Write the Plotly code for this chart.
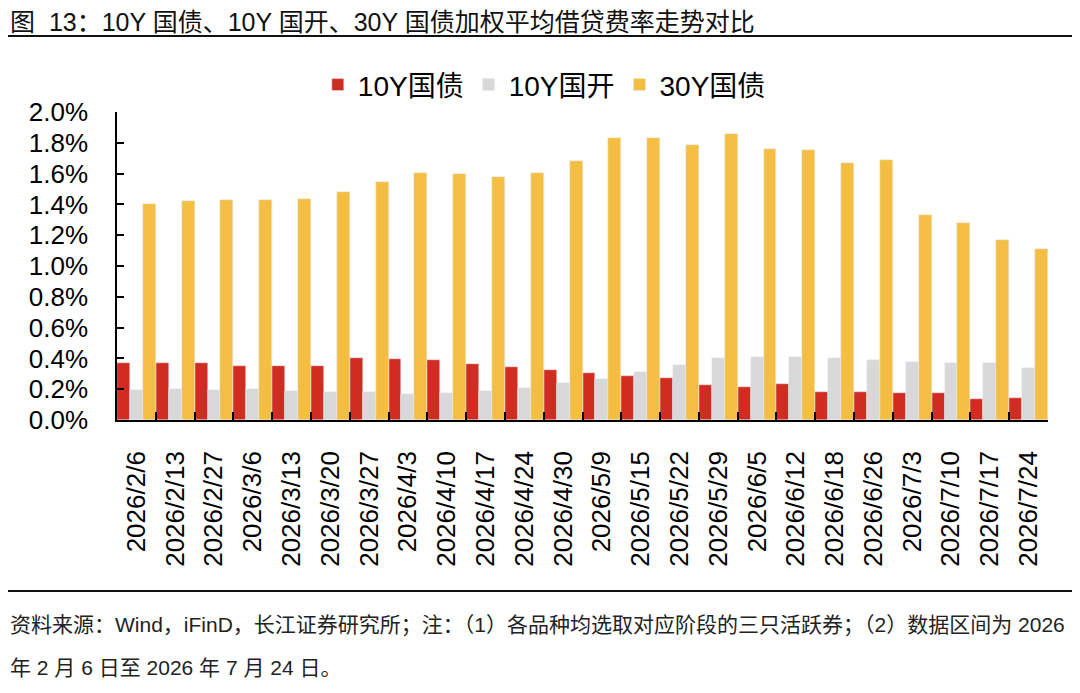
import plotly.graph_objects as go

# 每周日期
dates = ["2026/2/6", "2026/2/13", "2026/2/27", "2026/3/6", "2026/3/13", "2026/3/20",
         "2026/3/27", "2026/4/3", "2026/4/10", "2026/4/17", "2026/4/24", "2026/4/30",
         "2026/5/9", "2026/5/15", "2026/5/22", "2026/5/29", "2026/6/5", "2026/6/12",
         "2026/6/18", "2026/6/26", "2026/7/3", "2026/7/10", "2026/7/17", "2026/7/24"]

# 加权平均借贷费率 (%)
gov_10y = [0.368, 0.370, 0.368, 0.352, 0.350, 0.350, 0.400, 0.396, 0.387, 0.363, 0.342, 0.324,
           0.307, 0.288, 0.275, 0.227, 0.214, 0.231, 0.184, 0.179, 0.177, 0.177, 0.138, 0.145]
cdb_10y = [0.197, 0.201, 0.197, 0.199, 0.186, 0.179, 0.179, 0.169, 0.173, 0.188, 0.208, 0.242,
           0.266, 0.309, 0.357, 0.400, 0.411, 0.406, 0.400, 0.389, 0.378, 0.372, 0.368, 0.337]
gov_30y = [1.405, 1.423, 1.427, 1.429, 1.436, 1.479, 1.544, 1.606, 1.598, 1.576, 1.602, 1.680,
           1.834, 1.829, 1.784, 1.857, 1.762, 1.751, 1.667, 1.686, 1.334, 1.282, 1.170, 1.111]

y_ticks = [0.0, 0.2, 0.4, 0.6, 0.8, 1.0, 1.2, 1.4, 1.6, 1.8, 2.0]
y_labels = ["0.0%", "0.2%", "0.4%", "0.6%", "0.8%", "1.0%", "1.2%", "1.4%", "1.6%", "1.8%", "2.0%"]

FONT = "Liberation Sans, Arial, Noto Sans CJK SC, sans-serif"

fig = go.Figure()
fig.add_trace(go.Bar(x=dates, y=gov_10y, name="10Y国债", marker_color="#D02D22"))
fig.add_trace(go.Bar(x=dates, y=cdb_10y, name="10Y国开", marker_color="#D8D8D8"))
fig.add_trace(go.Bar(x=dates, y=gov_30y, name="30Y国债", marker_color="#F4BE42"))

fig.update_layout(
    width=1080, height=693,
    margin=dict(l=109, r=40, t=104, b=281),
    paper_bgcolor="white", plot_bgcolor="white",
    font=dict(family=FONT, size=26, color="black"),
    barmode="group", bargap=0, bargroupgap=0,
    showlegend=True,
    legend=dict(orientation="h", x=0.459, xanchor="center", y=1.088, yanchor="middle",
                font=dict(size=28)),
)

fig.update_yaxes(range=[0, 2.0], tickvals=y_ticks, ticktext=y_labels,
                 showgrid=False, zeroline=False, showline=True, linecolor="black", linewidth=1.5,
                 ticks="inside", ticklen=7, tickcolor="black", tickwidth=1.5,
                 ticklabelstandoff=22)
fig.update_xaxes(type="category", tickangle=-90, showgrid=False, showline=True,
                 linecolor="black", linewidth=1.5, ticks="inside", ticklen=8,
                 tickcolor="black", tickwidth=1.5, tickson="boundaries",
                 ticklabelstandoff=19)

# 标题及分隔线
fig.add_annotation(text="图\u00a0\u00a013：10Y 国债、10Y 国开、30Y 国债加权平均借贷费率走势对比",
                   xref="paper", yref="paper", x=-0.117, y=1.293, xanchor="left", yanchor="middle",
                   showarrow=False, font=dict(size=25, color="#111111"))
fig.add_shape(type="line", xref="paper", yref="paper", x0=-0.121, x1=1.030, y0=1.2468, y1=1.2468,
              line=dict(color="#111111", width=2))
fig.add_shape(type="line", xref="paper", yref="paper", x0=-0.121, x1=1.030, y0=-0.555, y1=-0.555,
              line=dict(color="#111111", width=2))

# 资料来源
fig.add_annotation(text="资料来源：Wind，iFinD，长江证券研究所；注：（1）各品种均选取对应阶段的三只活跃券；（2）数据区间为 2026",
                   xref="paper", yref="paper", x=-0.117, y=-0.666, xanchor="left", yanchor="middle",
                   showarrow=False, font=dict(size=21, color="#222222"))
fig.add_annotation(text="年 2 月 6 日至 2026 年 7 月 24 日。",
                   xref="paper", yref="paper", x=-0.117, y=-0.805, xanchor="left", yanchor="middle",
                   showarrow=False, font=dict(size=21, color="#222222"))

fig.write_html("out.html")
